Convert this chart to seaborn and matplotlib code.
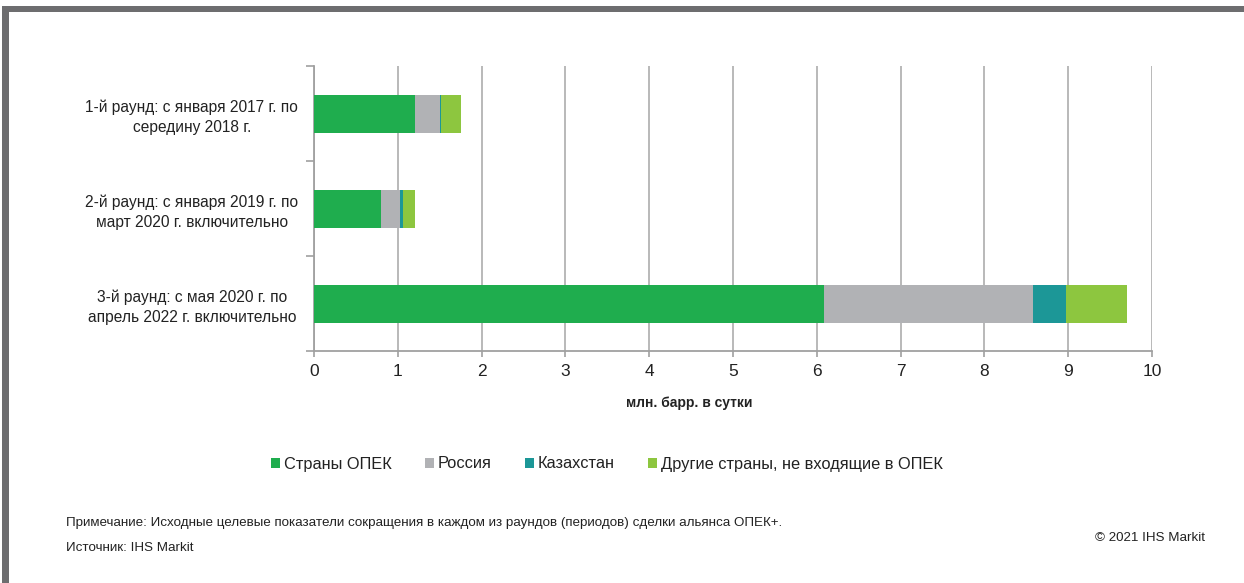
import matplotlib
matplotlib.use("Agg")
import matplotlib.pyplot as plt
from matplotlib.patches import Patch, Rectangle
import numpy as np
import pandas as pd
import seaborn as sns

# Rounds of the OPEC+ deal
rounds = [
    "1-й раунд: с января 2017 г. по\nсередину 2018 г.",
    "2-й раунд: с января 2019 г. по\nмарт 2020 г. включительно",
    "3-й раунд: с мая 2020 г. по\nапрель 2022 г. включительно",
]
# Production cut targets, mb/d
opec = [1.2, 0.8, 6.084]
russia = [0.3, 0.228, 2.5]
kazakhstan = [0.02, 0.04, 0.39]
others = [0.238, 0.132, 0.726]

series_names = ["Страны ОПЕК", "Россия", "Казахстан",
                "Другие страны, не входящие в ОПЕК"]
series_values = [opec, russia, kazakhstan, others]
colors = ["#1fad4e", "#b1b2b5", "#1c9797", "#8dc63f"]

x_ticks = list(range(0, 11))

sns.set_theme(style="white")
plt.rcParams["font.family"] = ["Liberation Sans", "DejaVu Sans"]

fig = plt.figure(figsize=(12.44, 5.83), dpi=100)
W, H = 1244, 583
ax = fig.add_axes([314 / W, 1 - 351 / H, (1152 - 314) / W, (351 - 66) / H])

# Stacked bars: draw cumulative totals, longest first
cum = np.cumsum(np.array(series_values), axis=0)
for i in reversed(range(len(series_names))):
    df = pd.DataFrame({"round": rounds, "value": cum[i]})
    sns.barplot(data=df, x="value", y="round", orient="h", color=colors[i],
                width=0.4, saturation=1, edgecolor="none", ax=ax, zorder=3)

ax.set_xlim(0, 10)
ax.set_ylim(2.5, -0.5)
ax.set_xticks(x_ticks)
ax.set_xticklabels([str(t) for t in x_ticks], fontsize=12.5, color="#222222")
ax.set_yticks(range(len(rounds)))
ax.set_yticklabels(rounds, fontsize=11.2, color="#222222", ha="center",
                   linespacing=1.4)
ax.set_xlabel("")
ax.set_ylabel("")

ax.tick_params(axis="y", which="major", length=0, pad=88)
ax.set_yticks([-0.5, 0.5, 1.5, 2.5], minor=True)
ax.tick_params(axis="y", which="minor", length=6, color="#a0a0a0", width=1.2,
               direction="out", left=True)
ax.tick_params(axis="x", which="major", length=4, color="#a0a0a0", width=1.2,
               direction="out", bottom=True, pad=5)

ax.grid(axis="x", color="#b3b3b3", linewidth=1.3, zorder=0)
ax.grid(axis="y", visible=False)
for side in ["top", "right"]:
    ax.spines[side].set_visible(False)
for side in ["left", "bottom"]:
    ax.spines[side].set_color("#a0a0a0")
    ax.spines[side].set_linewidth(1.3)

fig.text(689 / W, 1 - 403 / H, "млн. барр. в сутки", ha="center", va="center",
         fontsize=10, fontweight="bold", color="#222222")

handles = [Patch(facecolor=c, edgecolor="none") for c in colors]
fig.legend(handles, series_names, loc="center", bbox_to_anchor=(607 / W, 1 - 464 / H),
           ncol=4, frameon=False, fontsize=11.8, handlelength=0.55, handleheight=0.55,
           handletextpad=0.25, columnspacing=2.0, labelcolor="#222222")

fig.text(66 / W, 1 - 523 / H,
         "Примечание: Исходные целевые показатели сокращения в каждом из раундов "
         "(периодов) сделки альянса ОПЕК+.",
         ha="left", va="center", fontsize=9.6, color="#222222")
fig.text(66 / W, 1 - 548 / H, "Источник: IHS Markit", ha="left", va="center",
         fontsize=9.6, color="#222222")
fig.text(1205 / W, 1 - 538 / H, "© 2021 IHS Markit", ha="right", va="center",
         fontsize=9.6, color="#222222")

# Gray frame along the top and left edges
frame_color = "#6d6d6f"
fig.patches.append(Rectangle((2 / W, 1 - 12 / H), 1 - 2 / W, 6 / H,
                             transform=fig.transFigure, facecolor=frame_color,
                             edgecolor="none"))
fig.patches.append(Rectangle((2 / W, 0), 7 / W, 1 - 6 / H,
                             transform=fig.transFigure, facecolor=frame_color,
                             edgecolor="none"))

fig.savefig("out.png", dpi=100)
